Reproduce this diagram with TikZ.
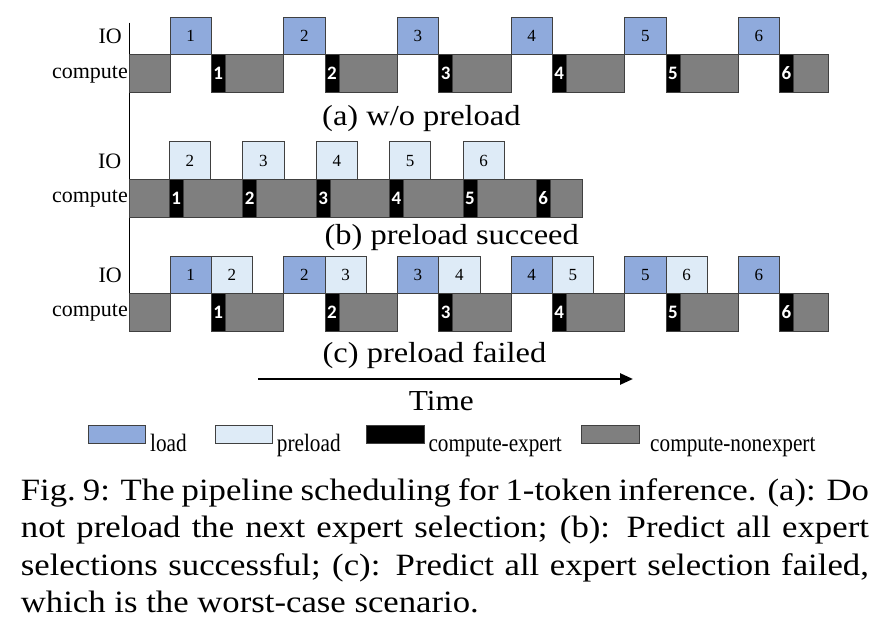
\documentclass[tikz,border=0pt]{standalone}
\usepackage{fontspec}
\setmainfont{Liberation Serif}
\newfontfamily\digitfont{Carlito}
\usepackage{graphicx}
\usetikzlibrary{arrows.meta}
\definecolor{loadblue}{HTML}{8FAADC}
\definecolor{preblue}{HTML}{DEEBF7}
\definecolor{nongray}{HTML}{7F7F7F}
\newcommand{\squash}[2]{\scalebox{#1}[1]{#2}}

\begin{document}
\begin{tikzpicture}[x=1pt,y=1pt,yscale=-1,xscale=1,
    cell/.style={draw=black!75,line width=0.7pt,inner sep=0pt,outer sep=0pt,anchor=north west,minimum height=37.7pt},
    loadbox/.style={cell,fill=loadblue,minimum width=41.3pt,font=\fontsize{17}{17}\selectfont},
    prebox/.style={cell,fill=preblue,minimum width=41.3pt,font=\fontsize{17}{17}\selectfont},
    expbox/.style={cell,fill=black,text=white,minimum width=14pt,font=\digitfont\fontsize{19}{19}\selectfont\bfseries},
    nonbox/.style={draw=black!75,line width=0.7pt,fill=nongray},
    rowlbl/.style={anchor=east,inner sep=0pt,font=\fontsize{22}{22}\selectfont},
    subcap/.style={anchor=base,inner sep=0pt,font=\fontsize{29}{29}\selectfont},
    legtxt/.style={anchor=base west,inner sep=0pt,font=\fontsize{25}{25}\selectfont},
  ]
    \useasboundingbox (0,0) rectangle (872,636);

    %Straight Lines: time axis of the three rows
    \coordinate (axtop) at (129.3,22.7);
    \coordinate (axbot) at (129.3,331.3);
    \draw [line width=1.2pt] (axtop) -- (axbot);

    %Shape: (a) w/o preload
    \draw [nonbox] (129.3,54.7) rectangle (170,92.4);
    \foreach \i in {1,...,5}{
      \draw [nonbox] ({170+(\i-1)*113.65+55.3},54.7) rectangle ({170+\i*113.65},92.4);
    }
    \draw [nonbox] (793.55,54.7) rectangle (828.3,92.4);
    \foreach \i in {1,...,6}{
      \pgfmathsetmacro{\xl}{170+(\i-1)*113.65}
      \node [loadbox] (a-io\i) at (\xl,17) {\i};
      \node [expbox] (a-ex\i) at (\xl+41.3,54.7) {\i};
    }

    %Shape: (b) preload succeed
    \draw [nonbox] (129.3,179.3) rectangle (582.7,217.3);
    \foreach \i in {1,...,6}{
      \pgfmathsetmacro{\xl}{169.3+(\i-1)*73.4}
      \node [expbox] (b-ex\i) at (\xl,179.3) {\i};
    }
    \foreach \i in {2,...,6}{
      \pgfmathsetmacro{\xl}{169.3+(\i-2)*73.4}
      \node [prebox] (b-pre\i) at (\xl,141.7) {\i};
    }

    %Shape: (c) preload failed
    \draw [nonbox] (129.3,293.7) rectangle (170,331.4);
    \foreach \i in {1,...,5}{
      \draw [nonbox] ({170+(\i-1)*113.65+55.3},293.7) rectangle ({170+\i*113.65},331.4);
    }
    \draw [nonbox] (793.55,293.7) rectangle (828.3,331.4);
    \foreach \i in {1,...,6}{
      \pgfmathsetmacro{\xl}{170+(\i-1)*113.65}
      \node [loadbox] (c-io\i) at (\xl,256) {\i};
      \node [expbox] (c-ex\i) at (\xl+41.3,293.7) {\i};
    }
    \foreach \i in {1,...,5}{
      \pgfmathsetmacro{\xl}{170+(\i-1)*113.65+41.3}
      \pgfmathtruncatemacro{\nx}{\i+1}
      \node [prebox] (c-pre\nx) at (\xl,256) {\nx};
    }

    % Text Node: row labels
    \node [rowlbl] (a-iolbl) at (122,36.5) {IO};
    \node [rowlbl] (a-cplbl) at (128,74.5) {compute};
    \node [rowlbl] (b-iolbl) at (121.5,161) {IO};
    \node [rowlbl] (b-cplbl) at (128,199) {compute};
    \node [rowlbl] (c-iolbl) at (122,275.5) {IO};
    \node [rowlbl] (c-cplbl) at (128,313) {compute};

    % Text Node: sub captions
    \node [subcap] (capa) at (421.4,126) {\squash{1.12}{(a) w/o preload}};
    \node [subcap] (capb) at (451.7,244) {\squash{1.12}{(b) preload succeed}};
    \node [subcap] (capc) at (434.4,362) {\squash{1.12}{(c) preload failed}};

    %Straight Lines: time arrow
    \coordinate (tstart) at (258.3,379);
    \coordinate (tend) at (633,379);
    \draw [line width=2.6pt,-{Triangle[length=13pt,width=11pt]}] (tstart) -- (tend);
    \node [subcap] (timelbl) at (441.3,410) {\squash{1.08}{Time}};

    %Shape: legend
    \node [cell,fill=loadblue,minimum width=56.7pt,minimum height=17.6pt] (leg-load) at (88.3,425.7) {};
    \node [cell,fill=preblue,minimum width=57.3pt,minimum height=17.6pt] (leg-pre) at (215,425.7) {};
    \node [cell,fill=black,minimum width=58pt,minimum height=17.6pt] (leg-exp) at (366,425.7) {};
    \node [cell,fill=nongray,minimum width=57.6pt,minimum height=17.6pt] (leg-non) at (581.7,425.7) {};
    \node [legtxt] (leg-loadtxt) at (150,451) {\squash{0.85}{load}};
    \node [legtxt] (leg-pretxt) at (276.7,451) {\squash{0.85}{preload}};
    \node [legtxt] (leg-exptxt) at (428.3,451) {\squash{0.85}{compute-expert}};
    \node [legtxt] (leg-nontxt) at (650,451) {\squash{0.85}{compute-nonexpert}};

    % Text Node: figure caption
    \node [anchor=base west,inner sep=0pt] (caption) at (20.7,500) {\squash{1.12}{\parbox[t]{757.1pt}{\fontsize{31}{37.6}\selectfont\hyphenpenalty=10000
      Fig.~9: The pipeline scheduling for 1-token inference. (a): Do\linebreak
      not preload the next expert selection; (b): Predict all expert\linebreak
      selections successful; (c): Predict all expert selection failed,\linebreak
      which is the worst-case scenario.}}};

\end{tikzpicture}
\end{document}
